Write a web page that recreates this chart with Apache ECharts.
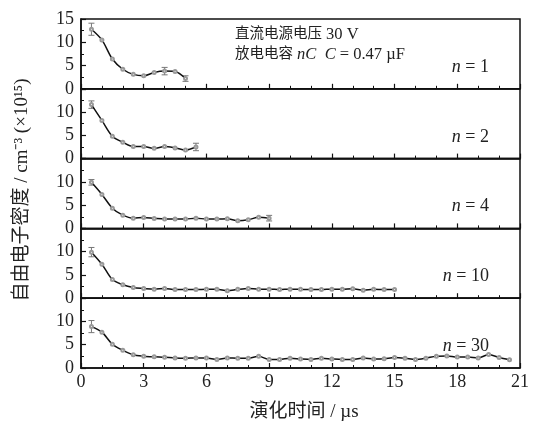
<!DOCTYPE html>
<html><head><meta charset="utf-8">
<script src="https://cdn.jsdelivr.net/npm/echarts@6/dist/echarts.min.js"></script>
<style>html,body{margin:0;padding:0;background:#fff}#c{width:533px;height:428px}</style>
</head><body><div id="c"></div>
<script>
const t = [0.5,1,1.5,2,2.5,3,3.5,4,4.5,5,5.5,6,6.5,7,7.5,8,8.5,9,9.5,10,10.5,11,11.5,12,12.5,13,13.5,14,14.5,15,15.5,16,16.5,17,17.5,18,18.5,19,19.5,20,20.5];
const n1 = [12.8,10.5,6.4,4.2,3.1,2.8,3.5,3.8,3.7,2.2];
const n2 = [11.6,8.2,4.8,3.5,2.6,2.6,2.2,2.6,2.3,1.85,2.5];
const n4 = [9.9,7.3,4.35,2.85,2.2,2.35,2.15,2.0,2.0,2.0,2.2,2.0,2.0,2.05,1.65,1.85,2.4,2.2];
const n10 = [9.9,7.3,4.0,2.9,2.3,2.1,1.95,2.1,1.85,1.85,1.85,1.9,1.9,1.6,1.9,2.1,1.95,1.95,1.85,1.95,1.9,1.85,1.85,1.95,1.9,2.05,1.7,1.9,1.85,1.85];
const n30 = [8.9,7.7,5.1,3.8,2.85,2.55,2.4,2.3,2.15,2.1,2.15,2.15,1.85,2.15,2.1,2.1,2.5,1.85,1.85,2.1,1.95,1.85,2.1,1.95,1.85,1.85,2.15,1.95,2.0,2.25,2.1,1.8,2.1,2.55,2.6,2.35,2.35,2.15,2.9,2.25,1.75];
// error bars: [time index, half-width]
const err1 = [[0,1.3],[7,0.8],[9,0.6]];
const err2 = [[0,0.8],[10,0.8]];
const err4 = [[0,0.6],[17,0.6]];
const err10 = [[0,1.0]];
const err30 = [[0,1.3]];
const nLabels = ['1','2','4','10','30'];
const xTicks = [0,3,6,9,12,15,18,21];
const yTicks = [0,5,10,15];

const panels = [n1,n2,n4,n10,n30];
const errs = [err1,err2,err4,err10,err30];
const FONT = '"Liberation Serif","Noto Sans CJK SC",serif';
const chart = echarts.init(document.getElementById('c'));
const top0 = 19, ph = 69.8, L = 81, W = 439;
const grid=[], xAxis=[], yAxis=[], series=[], graphic=[];
panels.forEach((vals,i)=>{
  grid.push({left:L, width:W, top:top0+i*ph, height:ph, show:true, borderColor:'#111', borderWidth:1.5, backgroundColor:'transparent'});
  xAxis.push({type:'value', gridIndex:i, min:xTicks[0], max:xTicks[xTicks.length-1], interval:3,
    axisLine:{show:true, onZero:false, lineStyle:{color:'#111', width:1.5}},
    axisTick:{show:true, inside:true, length:5, lineStyle:{color:'#111', width:1.2}},
    minorTick:{show:true, splitNumber:3, length:3, lineStyle:{color:'#111', width:1}},
    splitLine:{show:false},
    axisLabel:{show:i===4, color:'#222', fontFamily:FONT, fontSize:18, margin:5}});
  yAxis.push({type:'value', gridIndex:i, min:yTicks[0], max:yTicks[3], interval:5,
    axisLine:{show:true, lineStyle:{color:'#111', width:1.5}},
    axisTick:{show:true, inside:true, length:5, lineStyle:{color:'#111', width:1.2}},
    minorTick:{show:true, splitNumber:2, length:3, lineStyle:{color:'#111', width:1}},
    splitLine:{show:false},
    axisLabel:{color:'#222', fontFamily:FONT, fontSize:18, margin:7,
      formatter:(v)=> (v===15 && i>0) ? '' : String(v)}});
  series.push({type:'line', xAxisIndex:i, yAxisIndex:i, smooth:0.3,
    data: vals.map((v,k)=>[t[k],v]),
    symbol:'emptyCircle', symbolSize:3,
    itemStyle:{color:'#999', borderWidth:0.8},
    lineStyle:{color:'#111', width:1.5}, z:3});
  series.push({type:'custom', xAxisIndex:i, yAxisIndex:i, z:2,
    data: errs[i].map(e=>[t[e[0]], vals[e[0]]-e[1], vals[e[0]]+e[1]]),
    renderItem:(params, api)=>{
      const lo = api.coord([api.value(0), api.value(1)]);
      const hi = api.coord([api.value(0), api.value(2)]);
      const w = 3;
      const st = {stroke:'#777', lineWidth:1};
      return {type:'group', children:[
        {type:'line', shape:{x1:lo[0],y1:lo[1],x2:hi[0],y2:hi[1]}, style:st},
        {type:'line', shape:{x1:lo[0]-w,y1:lo[1],x2:lo[0]+w,y2:lo[1]}, style:st},
        {type:'line', shape:{x1:hi[0]-w,y1:hi[1],x2:hi[0]+w,y2:hi[1]}, style:st}
      ]};
    }});
  graphic.push({type:'text', right:533-489, top:top0+i*ph+39,
    style:{text:'{i|n} = '+nLabels[i], fill:'#222', font:'18px '+FONT,
      rich:{i:{fontStyle:'italic', fontFamily:FONT, fontSize:18, fill:'#222'}}}});
});
const annRich = {
  c:{fontFamily:FONT, fontSize:14.5, fill:'#222'},
  l:{fontFamily:FONT, fontSize:16.5, fill:'#222'},
  i:{fontStyle:'italic', fontFamily:FONT, fontSize:16.5, fill:'#222'}
};
graphic.push({type:'text', left:235, top:26, style:{text:'{c|直流电源电压}{l| 30 V}', rich:annRich}});
graphic.push({type:'text', left:235, top:46, style:{text:'{c|放电电容}{l| }{i|nC}{l|  }{i|C}{l| = 0.47 µF}', rich:annRich}});
graphic.push({type:'text', x:22, y:190, rotation:Math.PI/2,
  style:{text:'自由电子密度 / cm⁻³ (×10¹⁵)', fill:'#222', font:'19px '+FONT, align:'center', verticalAlign:'middle'}});
graphic.push({type:'text', x:304, y:412,
  style:{text:'演化时间 / µs', fill:'#222', font:'19px '+FONT, align:'center', verticalAlign:'middle'}});

chart.setOption({animation:false, grid, xAxis, yAxis, series, graphic});
</script></body></html>
